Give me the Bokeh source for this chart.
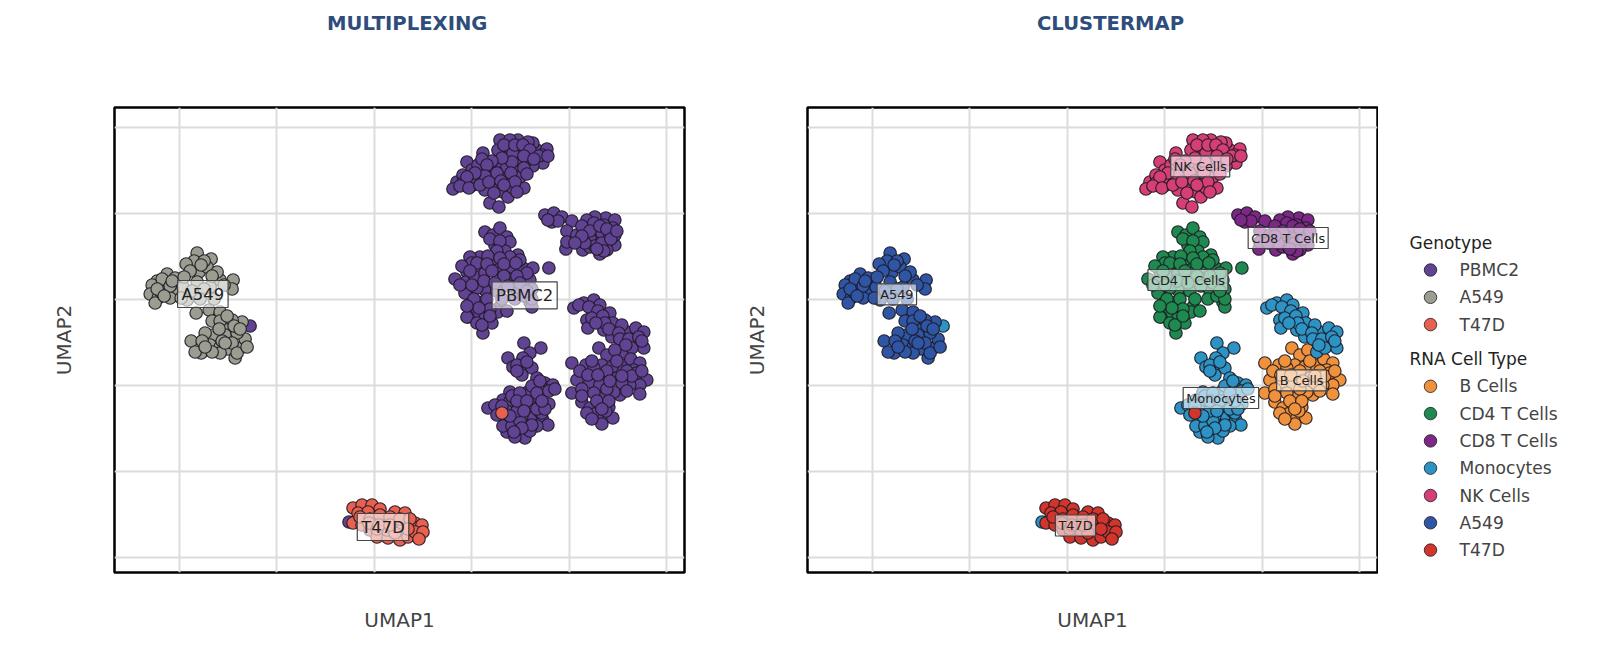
from bokeh.plotting import figure
from bokeh.layouts import row, column
from bokeh.models import Label, FixedTicker, Range1d
from bokeh.core.properties import value
from bokeh.embed import file_html
from bokeh.resources import INLINE

x_range_limits = (2.3, 572.7)
y_range_limits = (-11.5, 453.5)
x_ticks = [67, 164.6, 262.2, 359.8, 457.4, 555]
y_ticks = [4, 90, 176, 261.7, 347.7, 433.7]

nk = [(388,421),(398,413),(415,409),(425,411),(435,412),(421,418),(406,421),(395,404),(431,398),(421,395),
      (385,394),(371,408),(355,399),(360,391),(368,382),(361,376),(345,379),(341,372),(351,386),(398,381),
      (384,375),(373,371),(391,369),(396,364),(412,373),(378,358),(387,354),(405,391),(378,391),(415,401),
      (405,401),(393,388),(386,411),(398,421),(416,419),(408,413),(351,378),(366,396),(390,396),(401,373),
      (381,384),(408,384),(395,394),(401,408),(430,406),(358,383),
      (392,416),(403,416),(411,416),(418,411),(427,405),(436,405),(412,405),(422,402),(400,399),(390,403),
      (380,400),(370,402),(375,396),(385,388),(373,385),(363,388),(355,384),(348,375),(357,373),(368,376),
      (377,379),(389,380),(399,388),(412,393),(403,379),(392,376),(382,368),(405,369),(415,387)]
cd8 = [(438,344),(433,346),(442,348),(450,344),(460,340),(440,339),(455,330),(454,312),(455,319),(468,319),
       (473,329),(485,333),(494,343),(503,341),(501,333),(503,316),(488,307),(471,311),(485,323),(495,319),
       (483,344),(475,341),(465,326),(478,314),(495,311),(503,326),(490,328),(478,323),(483,315),
       (492,336),(482,338),(470,335),(498,326),(490,318),(473,318),(478,330),(488,335),(495,332),(470,325),
       (463,318),(492,310),(499,322),(505,330),(485,312),(446,340),(436,341)]
cd4 = [(373,329),(381,326),(388,333),(395,324),(398,319),(383,316),(393,310),(406,306),(398,304),(368,304),
       (358,304),(360,298),(380,297),(368,293),(355,289),(343,282),(354,279),(363,284),(373,288),(386,291),
       (400,293),(411,293),(421,293),(408,301),(355,268),(373,271),(365,273),(371,259),(363,248),(356,244),
       (374,243),(418,281),(395,283),(418,259),(388,254),(353,268),(355,244),(373,243),(380,238),(371,228),
       (365,238),(360,258),(386,249),(420,254),(437,293),(385,270),(405,270),
       (378,322),(388,320),(385,310),(376,305),(388,303),(365,298),(350,295),(375,297),(392,297),(404,298),
       (415,288),(358,290),(380,290),(392,285),(405,285),(348,276),(360,276),(372,280),(383,278),(396,275),
       (408,278),(420,272),(362,262),(375,262),(390,262),(403,262),(412,265),(378,252),(367,253),(395,250),
       (370,236),(378,245),(420,262),(415,270),(355,255)]
mono = [(462,253),(472,258),(482,261),(488,256),(475,241),(476,233),(492,231),(498,248),(500,224),(501,238),
        (515,229),(524,233),(532,229),(523,218),(532,213),(512,209),(510,236),(481,250),
        (467,256),(477,254),(486,250),(480,243),(491,245),(493,238),(484,238),(497,232),(507,228),(508,222),
        (517,222),(527,224),(520,213),(514,216),(530,220),
        (412,218),(429,213),(418,208),(396,203),(411,203),(401,194),(411,194),(420,193),(410,186),(425,183),
        (433,178),(441,176),(430,173),(416,169),(398,169),(376,153),(391,161),(437,157),(426,158),(415,154),
        (401,156),(393,143),(395,129),(408,129),(415,138),(420,146),(431,141),(436,136),(406,138),(413,123),
        (403,124),(403,145),(428,149),
        (405,196),(415,199),(405,190),(420,175),(425,168),(437,170),(410,160),(398,160),(388,153),(383,156),
        (391,135),(400,135),(410,145),(418,155),(430,148),(425,135),(418,130),(408,140),(395,150),(405,150),
        (385,146),(443,172),(428,180),
        (400,165),(408,168),(405,160),(415,160),(425,152),(390,155),(398,145),(412,150),(433,152),(420,136),
        (410,133),(402,129),(430,160)]
bcell = [(487,213),(495,206),(503,211),(460,198),(474,196),(490,196),(510,196),(519,202),(528,198),(465,181),
         (460,168),(535,181),(528,176),(528,167),(518,176),(508,166),(492,164),(470,159),(478,153),(488,156),
         (497,154),(483,147),(492,143),(501,143),(475,148),(482,193),(500,194),(522,191),(478,179),(492,179),
         (505,183),(488,176),(502,169),
         (468,190),(480,200),(495,190),(505,200),(515,190),(525,188),(470,172),(482,168),(495,172),(510,178),
         (520,185),(530,190),(485,160),(494,150),(490,137),(480,142),(497,160),
         (476,186),(486,186),(515,170),(490,152),(470,165),(510,185),(498,180)]
a549 = [(85,308),(99,302),(82,300),(74,297),(87,289),(95,294),(108,281),(121,281),(120,272),(105,289),
        (55,287),(45,280),(40,276),(38,267),(46,263),(43,258),(53,274),(63,283),(65,268),(58,263),
        (71,274),(85,279),(98,274),(75,261),(84,248),(97,251),(108,249),(130,239),(115,234),(120,241),
        (101,226),(113,226),(93,228),(79,220),(89,208),(83,209),(98,216),(108,214),(116,212),(123,203),
        (130,214),(133,222),(125,228),(108,208),(120,218),
        (78,290),(92,300),(89,296),(100,285),(112,276),(92,272),(80,270),(72,284),(48,270),(50,282),
        (45,272),(58,275),(52,265),(60,280),(69,263),(88,262),(102,262),(100,240),(108,240),(115,245),
        (122,235),(128,232),(90,220),(100,209),(110,220),(125,208),(135,214),(113,218),(93,214),(107,232)]
t47d = [(241,53),(250,56),(260,56),(268,52),(283,49),(293,48),(246,48),(256,49),(241,38),(250,36),
        (258,31),(265,24),(276,23),(288,21),(296,24),(303,38),(310,36),(303,29),(311,29),(307,22),
        (283,38),(271,41),(291,34),(275,31),(248,44),(258,42),(268,46),(278,44),(288,42),(298,42),
        (257,38),(265,32),(283,28),(296,32),(267,36),(278,36)]
# cells whose genotype and RNA cell type disagree with their neighbourhood
stray_pbmc_mono = [(138,235),(237,39)]
stray_t47d = [(390,148)]

genotype_names = ["PBMC2", "A549", "T47D"]
genotype_colors = ["#614394", "#9a9d90", "#e8604f"]
cell_names = ["B Cells", "CD4 T Cells", "CD8 T Cells", "Monocytes", "NK Cells", "A549", "T47D"]
cell_colors = ["#f0923c", "#1e8a50", "#7d2787", "#2c93c4", "#d63f75", "#2f55a5", "#d2352b"]
panel_titles = ["MULTIPLEXING", "CLUSTERMAP"]

left_labels = [("PBMC2", 412.7, 265.7), ("A549", 90.7, 267), ("T47D", 271, 34)]
right_labels = [("NK Cells", 395.3, 394.7), ("CD8 T Cells", 483.3, 323), ("CD4 T Cells", 383, 281),
                ("Monocytes", 416, 163), ("B Cells", 496.7, 180.7), ("A549", 91.7, 266.7), ("T47D", 270.5, 35.5)]

EDGE = "#1e1a22"
HEADER_H = 46

# header strip holding the two panel titles
header = figure(width=1592, height=HEADER_H, min_border=0, x_range=Range1d(0, 1592), y_range=Range1d(HEADER_H, 0),
                output_backend="svg", toolbar_location=None, x_axis_type=None, y_axis_type=None)
header.outline_line_color = None
header.grid.visible = False
header.text([406.7, 1110], [23.3, 23.3], text=panel_titles, text_font=value("DejaVu Sans"),
            text_font_size="19.6px", text_font_style="bold", text_align="center",
            text_baseline="middle", text_color="#2f4d7c")


def base(width, bl, br):
    p = figure(width=width, height=594, frame_width=570, frame_height=465,
               min_border_left=bl, min_border_right=br, min_border_top=107 - HEADER_H, min_border_bottom=68,
               x_range=Range1d(*x_range_limits), y_range=Range1d(*y_range_limits),
               output_backend="svg", toolbar_location=None, x_axis_label="UMAP1", y_axis_label="UMAP2")
    p.outline_line_color = "black"
    p.outline_line_width = 2.5
    p.background_fill_color = "white"
    for ax, ticks in ((p.xaxis[0], x_ticks), (p.yaxis[0], y_ticks)):
        ax.ticker = FixedTicker(ticks=ticks)
        ax.major_tick_line_color = None
        ax.minor_tick_line_color = None
        ax.axis_line_color = None
        ax.major_label_text_font_size = "0px"
        ax.major_label_text_color = None
        ax.axis_label_text_font = "DejaVu Sans"
        ax.axis_label_text_font_size = "20px"
        ax.axis_label_text_font_style = "normal"
        ax.axis_label_text_color = "#444444"
    p.xaxis[0].axis_label_standoff = 29
    p.yaxis[0].axis_label_standoff = 33
    p.grid.grid_line_color = "#dcdcdc"
    p.grid.grid_line_width = 2
    return p


def dots(p, pts, color):
    return p.scatter([a for a, _ in pts], [b for _, b in pts], size=12.5, marker="circle",
                     fill_color=color, line_color=EDGE, line_width=1.2, line_alpha=0.9)


def add_text(p, items, size, pad):
    for text, x, y in items:
        p.add_layout(Label(x=x, y=y, text=text, text_align="center", text_baseline="middle",
                           text_font="DejaVu Sans", text_font_size=size, text_color="#222222",
                           background_fill_color="white", background_fill_alpha=0.6,
                           border_line_color="#444444", border_line_width=1.2, padding=pad))


left = base(114 + 570 + 56, 114, 56)
dots(left, nk + cd8 + cd4 + mono + bcell + stray_pbmc_mono, genotype_colors[0])
dots(left, a549, genotype_colors[1])
dots(left, t47d, genotype_colors[2])
dots(left, stray_t47d, genotype_colors[2])
add_text(left, left_labels, "16.4px", 4)

right = base(67 + 570 + 1, 67, 1)
cell_groups = [bcell, cd4, cd8, mono, nk, a549, t47d]
dots(right, stray_pbmc_mono, cell_colors[3])
for pts, c in zip(cell_groups, cell_colors):
    dots(right, pts, c)
dots(right, stray_t47d, cell_colors[6])
add_text(right, right_labels, "12.9px", 3)

# legend column: the row aligns this frame with the panels, so its y scale spans their pixel extent
key = figure(width=214, height=594, min_border=0, x_range=Range1d(0, 214), y_range=Range1d(572.5, 107.5),
             output_backend="svg", toolbar_location=None, x_axis_type=None, y_axis_type=None)
key.outline_line_color = None
key.grid.visible = False


def key_block(title, names, colors, top):
    key.text([31], [top], text=[title], text_font=value("DejaVu Sans"), text_font_size="17px",
             text_baseline="middle", text_color="#222222")
    ys = [top + 27.3 * (i + 1) for i in range(len(names))]
    key.scatter([52] * len(names), ys, size=12.5, marker="circle", fill_color=colors,
                line_color=EDGE, line_width=1, line_alpha=0.8)
    key.text([81] * len(names), ys, text=names, text_font=value("DejaVu Sans"), text_font_size="17.1px",
             text_baseline="middle", text_color="#444444")


key_block("Genotype", genotype_names, genotype_colors, 242.7)
key_block("RNA Cell Type", cell_names, cell_colors, 359)

page = column(header, row(left, right, key, spacing=0), spacing=0)
open("out.html", "w").write(file_html(page, INLINE))
